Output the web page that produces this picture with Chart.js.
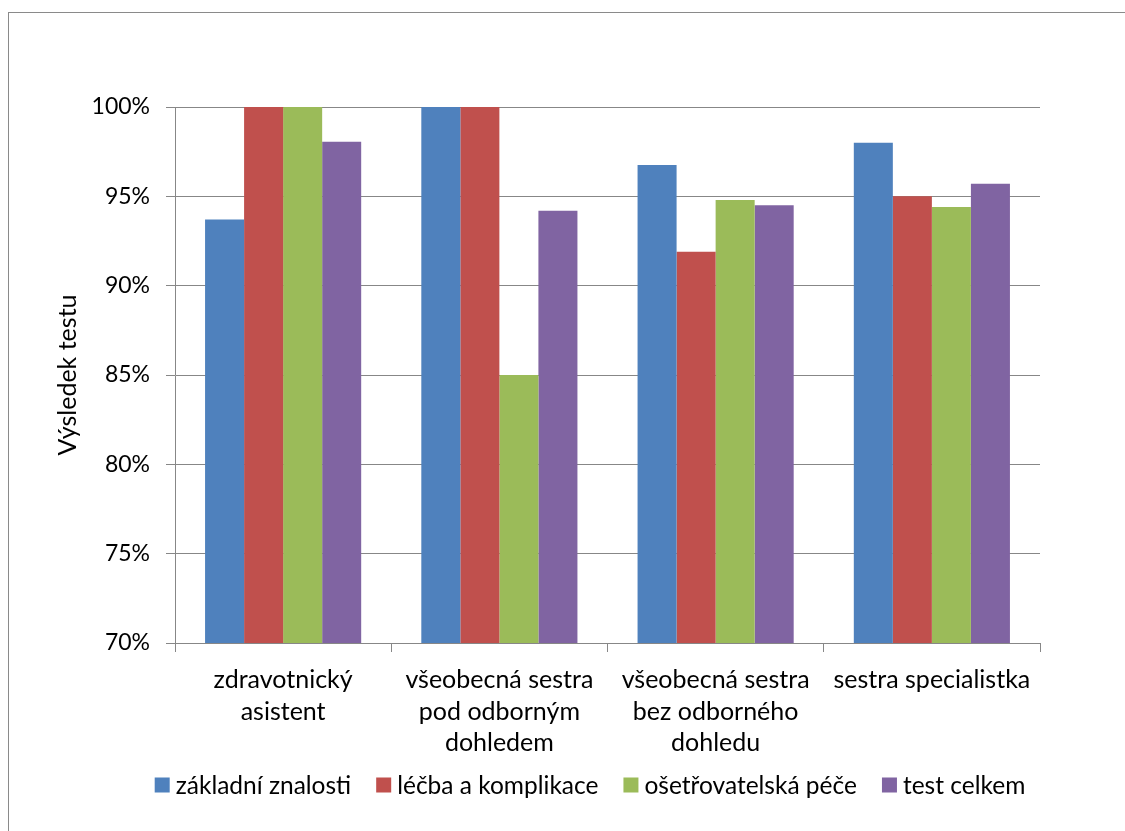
<!DOCTYPE html>
<html lang="cs">
<head>
<meta charset="utf-8">
<title>Výsledek testu</title>
<script src="https://cdn.jsdelivr.net/npm/chart.js@4.4.1/dist/chart.umd.min.js"></script>
<style>
  html, body { margin: 0; padding: 0; background: #fff; }
  #wrap { position: relative; width: 1125px; height: 831px; overflow: hidden; }
  #frame { position: absolute; left: 8px; top: 12px; width: 1200px; height: 900px;
           border-left: 1px solid #8a8a8a; border-top: 1px solid #8a8a8a; }
  canvas { position: absolute; left: 0; top: 0; }
</style>
</head>
<body>
<div id="wrap">
  <div id="frame"></div>
  <canvas id="c" width="1125" height="831"></canvas>
</div>
<script>
// Skupiny respondentů (víceřádkové popisky osy x)
const categories = [
  ['zdravotnický', 'asistent'],
  ['všeobecná sestra', 'pod odborným', 'dohledem'],
  ['všeobecná sestra', 'bez odborného', 'dohledu'],
  ['sestra specialistka']
];

// Úspěšnost v jednotlivých částech testu (%)
const zakladniZnalosti   = [93.7, 100, 96.75, 98.0];
const lecbaAKomplikace   = [100, 100, 91.9, 95.0];
const osetrovatelskaPece = [100, 85.0, 94.8, 94.4];
const testCelkem         = [98.05, 94.2, 94.5, 95.7];

const seriesNames = ['základní znalosti', 'léčba a komplikace', 'ošetřovatelská péče', 'test celkem'];
const seriesColors = ['#4F81BD', '#C0504D', '#9BBB59', '#8064A2'];

const yTicks = [70, 75, 80, 85, 90, 95, 100];

const FONT = 'Lato, "Open Sans", sans-serif';
const GRID = '#878787';

// Legenda v dolní části, kreslená z datových řad grafu
const bottomLegend = {
  id: 'bottomLegend',
  afterDraw(chart) {
    const ctx = chart.ctx;
    ctx.save();
    ctx.font = '24.5px ' + FONT;
    ctx.textBaseline = 'middle';
    ctx.textAlign = 'left';
    const y = 785;
    const box = 15;
    const items = chart.data.datasets.map(ds => ({
      label: ds.label, color: ds.backgroundColor, w: ctx.measureText(ds.label).width
    }));
    const gapBox = 6, gapItem = 25;
    const total = items.reduce((s, it) => s + box + gapBox + it.w, 0) + gapItem * (items.length - 1);
    let x = 590 - total / 2;
    items.forEach(it => {
      ctx.fillStyle = it.color;
      ctx.fillRect(x, y - box / 2, box, box);
      x += box + gapBox;
      ctx.fillStyle = '#000';
      ctx.fillText(it.label, x, y + 1);
      x += it.w + gapItem;
    });
    ctx.restore();
  }
};

const datasetsData = [zakladniZnalosti, lecbaAKomplikace, osetrovatelskaPece, testCelkem];

new Chart(document.getElementById('c'), {
  type: 'bar',
  data: {
    labels: categories,
    datasets: datasetsData.map((d, i) => ({
      label: seriesNames[i],
      data: d,
      backgroundColor: seriesColors[i],
      borderWidth: 0,
      categoryPercentage: 0.722,
      barPercentage: 1.0
    }))
  },
  options: {
    responsive: false,
    animation: false,
    layout: { padding: { top: 107, right: 85, bottom: 48, left: 0 } },
    plugins: {
      legend: { display: false },
      tooltip: { enabled: false }
    },
    scales: {
      x: {
        grid: { offset: true, drawOnChartArea: false, color: GRID, tickLength: 9, lineWidth: 1 },
        border: { color: GRID, width: 1 },
        ticks: {
          color: '#000',
          font: { family: FONT, size: 25, lineHeight: 1.27 },
          padding: 12,
          maxRotation: 0,
          autoSkip: false
        },
        afterFit(scale) { scale.height = 140; }
      },
      y: {
        min: 70,
        max: 100,
        afterBuildTicks(scale) { scale.ticks = yTicks.map(v => ({ value: v })); },
        grid: { color: GRID, tickLength: 9, lineWidth: 1 },
        border: { color: GRID, width: 1 },
        ticks: {
          color: '#000',
          font: { family: FONT, size: 23 },
          padding: 16,
          callback: v => v + '%'
        },
        title: {
          display: true,
          text: 'Výsledek testu',
          color: '#000',
          font: { family: FONT, size: 25 },
          padding: { top: 53, bottom: 0 }
        },
        afterFit(scale) { scale.width = 175; }
      }
    }
  },
  plugins: [bottomLegend]
});
</script>
</body>
</html>
